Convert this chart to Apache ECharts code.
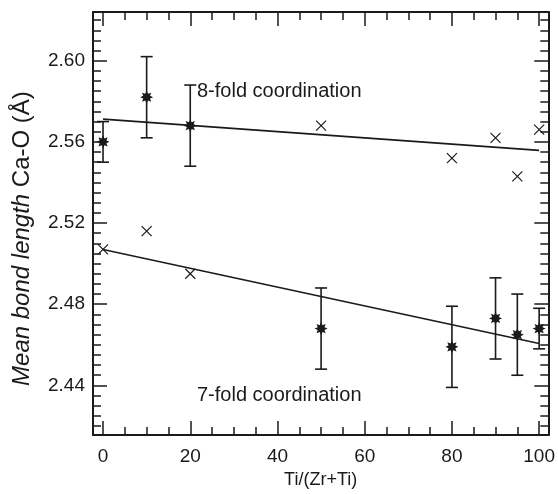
<!DOCTYPE html>
<html>
<head>
<meta charset="utf-8">
<script src="https://cdn.jsdelivr.net/npm/echarts@6/dist/echarts.min.js"></script>
<style>
html,body{margin:0;padding:0;background:#fff;}
#chart{width:558px;height:494px;}
</style>
</head>
<body>
<div id="chart"></div>
<script>
// ---- data ----
var x8Err = [0, 10, 20];
var y8Err = [2.560, 2.582, 2.568];
var e8Err = [0.010, 0.020, 0.020];
var x8Cross = [50, 80, 90, 95, 100];
var y8Cross = [2.568, 2.552, 2.562, 2.543, 2.566];
var fit8X = [0, 100];
var fit8Y = [2.5712, 2.5558];

var x7Cross = [0, 10, 20];
var y7Cross = [2.507, 2.516, 2.495];
var x7Err = [50, 80, 90, 95, 100];
var y7Err = [2.468, 2.459, 2.473, 2.465, 2.468];
var e7Err = [0.020, 0.020, 0.020, 0.020, 0.010];
var fit7X = [0, 100];
var fit7Y = [2.507, 2.4606];

var xMajorTicks = [0, 20, 40, 60, 80, 100];
var yMajorTicks = [2.44, 2.48, 2.52, 2.56, 2.60];
var xMinorTicks = [];
for (var i = 0; i <= 100; i += 5) xMinorTicks.push(i);
var yMinorTicks = [];
for (var j = 0; j <= 40; j++) yMinorTicks.push(Math.round((2.42 + j * 0.005) * 1000) / 1000);

var X_MIN = -2.3, X_MAX = 102.1, Y_MIN = 2.4155, Y_MAX = 2.624;
var INK = '#1a1a1a';
var FONT = 'Liberation Sans, Arial, sans-serif';

function zip(xs, ys) { return xs.map(function (x, k) { return [x, ys[k]]; }); }
function zip3(xs, ys, es) { return xs.map(function (x, k) { return [x, ys[k], es[k]]; }); }

var starPath = 'path://M100,50 L75.9,60.7 L85.4,85.4 L60.7,75.9 L50,100 L39.3,75.9 L14.6,85.4 L24.1,60.7 L0,50 L24.1,39.3 L14.6,14.6 L39.3,24.1 L50,0 L60.7,24.1 L85.4,14.6 L75.9,39.3 Z';
var crossPath = 'path://M0,0L10,10M10,0L0,10';

function axisX(pos, ticks, len, showLine, showLabel) {
  return {
    type: 'value', position: pos, min: X_MIN, max: X_MAX,
    axisLine: { show: showLine, onZero: false, lineStyle: { color: INK, width: 2 } },
    axisTick: { show: true, inside: true, length: len, customValues: ticks, lineStyle: { color: INK, width: 1.5 } },
    axisLabel: { show: showLabel, customValues: xMajorTicks, fontSize: 19, fontFamily: FONT, color: INK, margin: 12 },
    splitLine: { show: false }
  };
}
function axisY(pos, ticks, len, showLine, showLabel) {
  return {
    type: 'value', position: pos, min: Y_MIN, max: Y_MAX,
    axisLine: { show: showLine, onZero: false, lineStyle: { color: INK, width: 2 } },
    axisTick: { show: true, inside: true, length: len, customValues: ticks, lineStyle: { color: INK, width: 1.5 } },
    axisLabel: { show: showLabel, customValues: yMajorTicks, fontSize: 19, fontFamily: FONT, color: INK, margin: 8,
      formatter: function (v) { return v.toFixed(2); } },
    splitLine: { show: false }
  };
}

var xAxes = [
  axisX('bottom', xMajorTicks, 14, true, true),
  axisX('bottom', xMinorTicks, 8, false, false),
  axisX('top', xMajorTicks, 14, true, false),
  axisX('top', xMinorTicks, 8, false, false)
];
xAxes[0].name = 'Ti/(Zr+Ti)';
xAxes[0].nameLocation = 'middle';
xAxes[0].nameGap = 26;
xAxes[0].nameTextStyle = { fontSize: 18, fontFamily: FONT, color: INK };

var yAxes = [
  axisY('left', yMajorTicks, 14, true, true),
  axisY('left', yMinorTicks, 8, false, false),
  axisY('right', yMajorTicks, 14, true, false),
  axisY('right', yMinorTicks, 8, false, false)
];
yAxes[0].name = '{i|Mean bond length\u00a0}{n|Ca-O (Å)}';
yAxes[0].nameLocation = 'middle';
yAxes[0].nameGap = 59;
yAxes[0].nameTextStyle = {
  padding: [0, 30, 0, 0],
  rich: {
    i: { fontSize: 24, fontFamily: FONT, fontStyle: 'italic', color: INK },
    n: { fontSize: 24, fontFamily: FONT, color: INK }
  }
};

function errRender(params, api) {
  var x = api.value(0), y = api.value(1), e = api.value(2);
  var top = api.coord([x, y + e]);
  var bot = api.coord([x, y - e]);
  var hw = 6;
  var st = { stroke: INK, lineWidth: 1.6 };
  return {
    type: 'group',
    children: [
      { type: 'line', shape: { x1: top[0], y1: top[1], x2: bot[0], y2: bot[1] }, style: st },
      { type: 'line', shape: { x1: top[0] - hw, y1: top[1], x2: top[0] + hw, y2: top[1] }, style: st },
      { type: 'line', shape: { x1: bot[0] - hw, y1: bot[1], x2: bot[0] + hw, y2: bot[1] }, style: st }
    ]
  };
}

var chart = echarts.init(document.getElementById('chart'), null, { renderer: 'canvas' });
chart.setOption({
  animation: false,
  backgroundColor: '#fff',
  grid: { left: 93, top: 12, right: 6, bottom: 53, containLabel: false },
  xAxis: xAxes,
  yAxis: yAxes,
  series: [
    { type: 'line', data: zip(fit8X, fit8Y), symbol: 'none', lineStyle: { color: INK, width: 1.6 }, z: 2 },
    { type: 'line', data: zip(fit7X, fit7Y), symbol: 'none', lineStyle: { color: INK, width: 1.6 }, z: 2 },
    { type: 'custom', data: zip3(x8Err, y8Err, e8Err), renderItem: errRender, z: 3 },
    { type: 'custom', data: zip3(x7Err, y7Err, e7Err), renderItem: errRender, z: 3 },
    { type: 'scatter', data: zip(x8Err, y8Err), symbol: starPath, symbolSize: 13, itemStyle: { color: INK, opacity: 1 }, z: 4 },
    { type: 'scatter', data: zip(x7Err, y7Err), symbol: starPath, symbolSize: 13, itemStyle: { color: INK, opacity: 1 }, z: 4 },
    { type: 'scatter', data: zip(x8Cross, y8Cross), symbol: crossPath, symbolSize: 10,
      itemStyle: { color: 'none', borderColor: INK, borderWidth: 1.2, opacity: 1 }, z: 4 },
    { type: 'scatter', data: zip(x7Cross, y7Cross), symbol: crossPath, symbolSize: 10,
      itemStyle: { color: 'none', borderColor: INK, borderWidth: 1.2, opacity: 1 }, z: 4 }
  ],
  graphic: [
    { type: 'text', left: 197, top: 81, style: { text: '8-fold coordination', fontSize: 20, fontFamily: FONT, fill: INK } },
    { type: 'text', left: 197, top: 385, style: { text: '7-fold coordination', fontSize: 20, fontFamily: FONT, fill: INK } }
  ]
});
</script>
</body>
</html>
